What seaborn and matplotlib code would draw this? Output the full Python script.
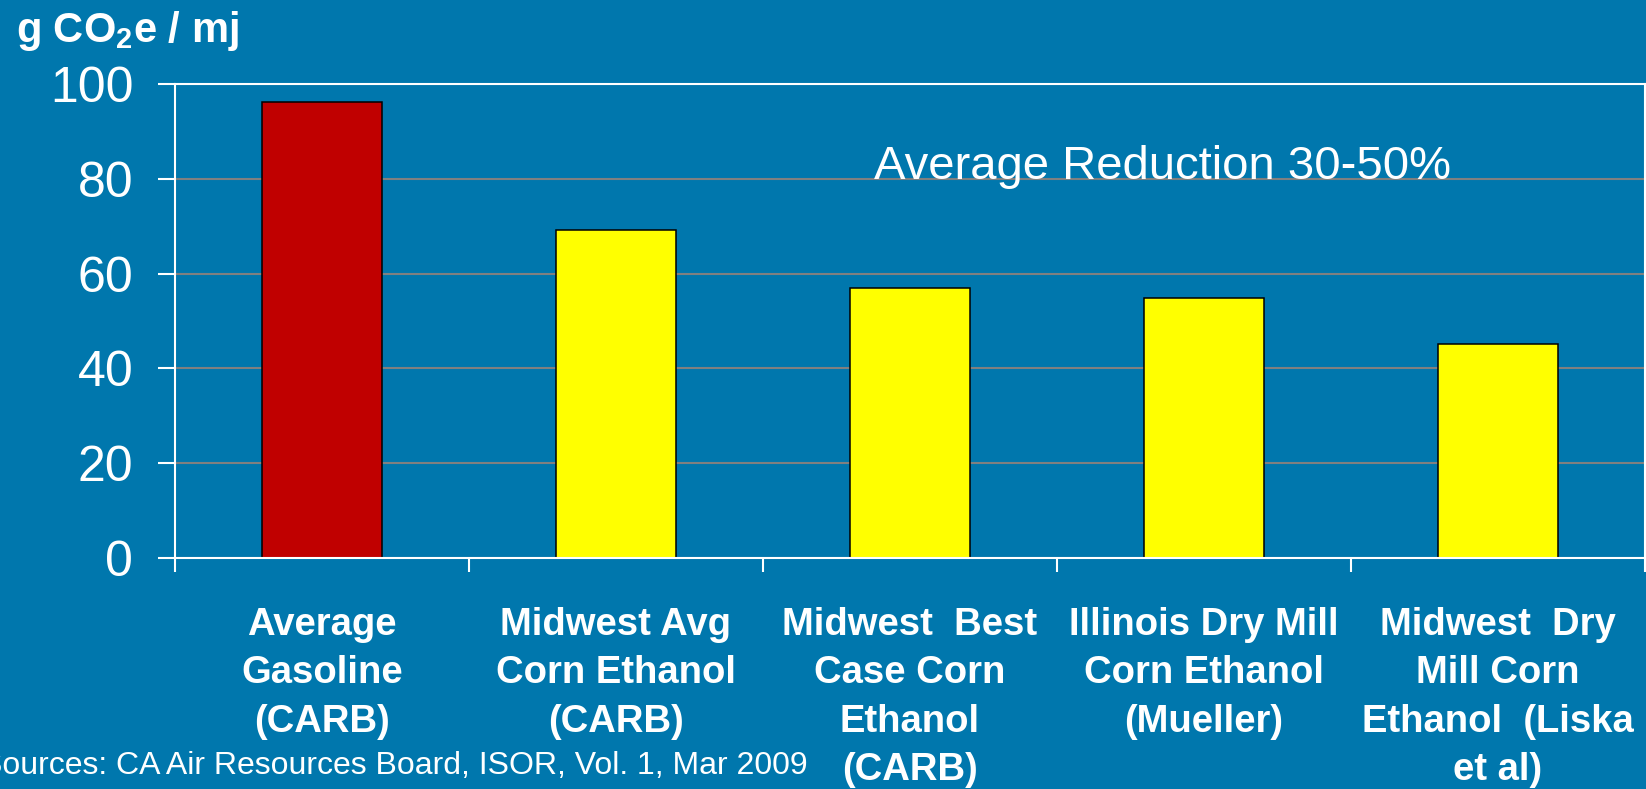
import matplotlib
matplotlib.use("Agg")
import matplotlib.pyplot as plt
from matplotlib.ticker import FixedLocator
import seaborn as sns
import pandas as pd

# data
categories = [
    "Average\nGasoline\n(CARB)",
    "Midwest Avg\nCorn Ethanol\n(CARB)",
    "Midwest  Best\nCase Corn\nEthanol\n(CARB)",
    "Illinois Dry Mill\nCorn Ethanol\n(Mueller)",
    "Midwest  Dry\nMill Corn\nEthanol  (Liska\net al)",
]
emissions = [96.1, 69.3, 56.9, 54.8, 45.1]
bar_colors = ["#C00000", "#FFFF00", "#FFFF00", "#FFFF00", "#FFFF00"]
y_ticks = [0, 20, 40, 60, 80, 100]

BG = "#0077AD"
WHITE = "white"

sns.set_style("white")
plt.rcParams["font.family"] = ["Liberation Sans", "DejaVu Sans"]
plt.rcParams["mathtext.fontset"] = "custom"
plt.rcParams["mathtext.rm"] = "Liberation Sans:bold"
plt.rcParams["mathtext.default"] = "rm"

df = pd.DataFrame({"fuel": categories, "g": emissions})

fig = plt.figure(figsize=(16.46, 7.89), dpi=100, facecolor=BG)
ax = fig.add_axes([175 / 1646, 1 - 558 / 789, 1470 / 1646, 474 / 789])
ax.set_facecolor(BG)

sns.barplot(data=df, x="fuel", y="g", hue="fuel", palette=bar_colors,
            legend=False, width=0.405, edgecolor="black", linewidth=1.1,
            saturation=1, ax=ax)

ax.set_ylim(0, 100)
ax.set_xlim(-0.5, len(categories) - 0.5)
ax.set_yticks(y_ticks)
ax.set_xlabel("")
ax.set_ylabel("")

# grid
ax.set_axisbelow(True)
ax.yaxis.grid(True, color="#808080", lw=1.5)
ax.xaxis.grid(False)

for sp in ax.spines.values():
    sp.set_color(WHITE)
    sp.set_linewidth(1.5)
    sp.set_visible(True)

# y ticks
ax.tick_params(axis="y", which="major", direction="out", length=12,
               width=1.5, color=WHITE, labelcolor=WHITE, labelsize=36,
               pad=18, left=True)
# x: labels at bar centres, tick marks at the boundaries
ax.tick_params(axis="x", which="major", length=0, labelcolor=WHITE,
               labelsize=27.5, pad=35)
ax.xaxis.set_minor_locator(FixedLocator([i - 0.5 for i in range(len(categories) + 1)]))
ax.tick_params(axis="x", which="minor", direction="out", length=10,
               width=1.5, color=WHITE, bottom=True)
for lab in ax.get_xticklabels():
    lab.set_fontweight("bold")
    lab.set_linespacing(1.45)

ax.text(1.878, 80, "Average Reduction 30-50%", color=WHITE, fontsize=34,
        ha="left", va="baseline")

fig.text(16 / 1646, 1 - 42 / 789, "g CO$_2$e / mj", color=WHITE,
         fontsize=30, fontweight="bold", ha="left", va="baseline")
fig.text(808 / 1646, 1 - 774 / 789,
         "Sources: CA Air Resources Board, ISOR, Vol. 1, Mar 2009",
         color=WHITE, fontsize=23.0, ha="right", va="baseline")

fig.savefig("out.png", dpi=100, facecolor=BG)
